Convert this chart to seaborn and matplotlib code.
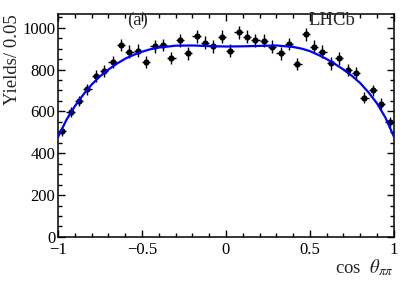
import numpy as np
import pandas as pd
import seaborn as sns
import matplotlib.pyplot as plt
from matplotlib.ticker import MultipleLocator, FixedLocator

# data: yields per 0.05 bin in cos(theta_pipi)
bin_centers = [-0.975, -0.925, -0.875, -0.825, -0.775, -0.725, -0.675, -0.625,
               -0.575, -0.525, -0.475, -0.425, -0.375, -0.325, -0.275, -0.225,
               -0.175, -0.125, -0.075, -0.025, 0.025, 0.075, 0.125, 0.175,
               0.225, 0.275, 0.325, 0.375, 0.425, 0.475, 0.525, 0.575,
               0.625, 0.675, 0.725, 0.775, 0.825, 0.875, 0.925, 0.975]
yields = [505, 598, 650, 706, 768, 794, 837, 917, 885, 890,
          837, 911, 917, 855, 941, 877, 958, 928, 911, 957,
          890, 978, 957, 941, 938, 909, 877, 922, 826, 968,
          909, 885, 829, 853, 797, 784, 665, 700, 637, 548]
yield_errors = [22, 24, 25, 27, 28, 28, 29, 30, 30, 30,
                29, 30, 30, 29, 31, 30, 31, 30, 30, 31,
                30, 31, 31, 31, 31, 30, 30, 30, 29, 31,
                30, 30, 29, 29, 28, 28, 26, 26, 25, 23]

# fit curve
fit_x = [-1.0, -0.95, -0.9, -0.85, -0.8, -0.75, -0.7, -0.65, -0.6, -0.55,
         -0.5, -0.45, -0.4, -0.3, -0.2, -0.1, 0.0, 0.1, 0.2, 0.3,
         0.4, 0.45, 0.5, 0.55, 0.6, 0.65, 0.7, 0.75, 0.8, 0.85,
         0.9, 0.95, 1.0]
fit_y = [478, 560, 625, 680, 728, 768, 800, 828, 852, 870,
         885, 897, 905, 914, 915, 912, 910, 911, 913, 915,
         908, 900, 888, 870, 850, 826, 800, 770, 735, 690,
         638, 570, 480]

df = pd.DataFrame({"x": bin_centers, "y": yields, "err": yield_errors})
fit = pd.DataFrame({"x": fit_x, "y": fit_y})

sns.set_theme(style="ticks")
plt.rcParams['font.family'] = ['Liberation Serif', 'DejaVu Serif']
plt.rcParams['mathtext.fontset'] = 'stix'

fig = plt.figure(figsize=(4.15, 2.82), dpi=100)
ax = fig.add_axes([0.14, 0.16, 0.809, 0.79])

ax.errorbar(df["x"], df["y"], yerr=df["err"], xerr=0.025, fmt="none",
            ecolor="black", elinewidth=1.0, capsize=0, zorder=2)
sns.scatterplot(data=df, x="x", y="y", ax=ax, color="black", s=20,
                edgecolor="black", linewidth=0, zorder=3)
sns.lineplot(data=fit, x="x", y="y", ax=ax, color="#0000ff", linewidth=1.6,
             zorder=4)

ax.set_xlim(-1, 1)
ax.set_ylim(0, 1065)
ax.xaxis.set_major_locator(FixedLocator([-1, -0.5, 0, 0.5, 1]))
ax.xaxis.set_minor_locator(MultipleLocator(0.1))
ax.yaxis.set_major_locator(MultipleLocator(200))
ax.yaxis.set_minor_locator(MultipleLocator(50))
ax.set_xticklabels(["\u22121", "\u22120.5", "0", "0.5", "1"])

ax.tick_params(which="both", direction="in", top=True, right=True,
               labelsize=12, colors="black")
ax.tick_params(axis="x", pad=3.5)
ax.tick_params(axis="y", pad=2)
ax.tick_params(which="major", length=5, width=1.0)
ax.tick_params(which="minor", length=2.7, width=1.0)
for sp in ax.spines.values():
    sp.set_linewidth(1.1)
    sp.set_color("black")

ax.set_xlabel(r"cos  $\theta_{\pi\pi}$", fontsize=13.5, loc="right", labelpad=0)
ax.set_ylabel("Yields/ 0.05", fontsize=13.5, loc="top", labelpad=1)

ax.text(-0.525, 1035, "(a)", fontsize=13.5, ha="center", va="center")
ax.text(0.63, 1035, "LHCb", fontsize=13.5, ha="center", va="center")

fig.savefig("out.png", dpi=100)
